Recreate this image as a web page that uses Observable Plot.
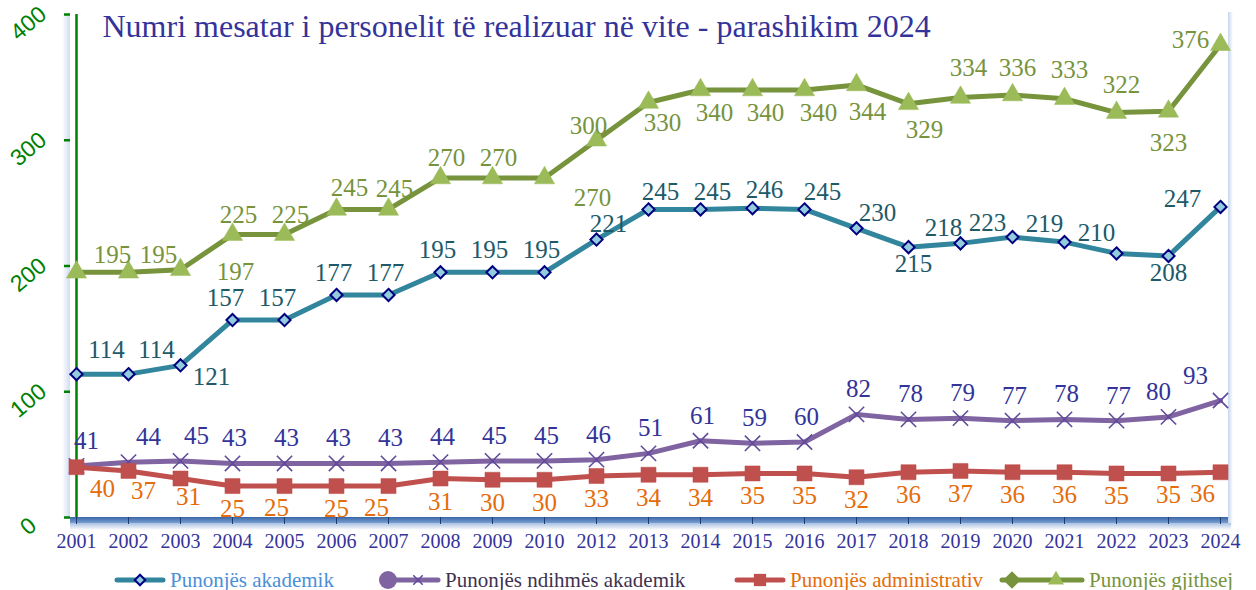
<!DOCTYPE html>
<html><head><meta charset="utf-8">
<script src="https://cdn.jsdelivr.net/npm/d3@7"></script>
<script src="https://cdn.jsdelivr.net/npm/@observablehq/plot@0.6"></script>
<style>
body{margin:0;background:#fff;width:1256px;height:590px;overflow:hidden;position:relative;font-family:"Liberation Serif",serif}
#chart{position:absolute;left:0;top:0}
.leg{position:absolute;top:565px;height:30px;display:flex;align-items:center;font-size:21px;white-space:nowrap}
.leg svg{display:block;margin-right:3px}
</style></head><body>
<div id="chart"></div>
<div id="legend"></div>
<script>
// ---- data ----
const title = "Numri mesatar i personelit të realizuar në vite - parashikim 2024";
const years = ["2001","2002","2003","2004","2005","2006","2007","2008","2009","2010","2012","2013","2014","2015","2016","2017","2018","2019","2020","2021","2022","2023","2024"];
const akademik = [114,114,121,157,157,177,177,195,195,195,221,245,245,246,245,230,215,218,223,219,210,208,247];
const ndihmes = [41,44,45,43,43,43,43,44,45,45,46,51,61,59,60,82,78,79,77,78,77,80,93];
const administrativ = [40,37,31,25,25,25,25,31,30,30,33,34,34,35,35,32,36,37,36,36,35,35,36];
const gjithsej = [195,195,197,225,225,245,245,270,270,270,300,330,340,340,340,344,329,334,336,333,322,323,376];
const seriesNames = ["Punonjës akademik","Punonjës ndihmës akademik","Punonjës administrativ","Punonjës gjithsej"];
const yTicks = [0,100,200,300,400];

// ---- styles ----
const styles = {
  akademik: {line:"#31859c", symbol:"diamond2", r:5.5, fill:"#93cddd", stroke:"#000080", sw:2, label:"#215968", legendText:"#4a8fd8"},
  ndihmes: {line:"#8064a2", symbol:"times", r:7, fill:"none", stroke:"#604a9b", sw:1.6, label:"#333399", legendText:"#3f3151"},
  administrativ: {line:"#c0504d", symbol:"square", r:8.5, fill:"#c0504d", stroke:"#c0504d", sw:0.5, label:"#e46c0a", legendText:"#e46c0a"},
  gjithsej: {line:"#77933c", symbol:"triangle", r:7.5, fill:"#9bbb59", stroke:"#9bbb59", sw:0.5, label:"#77933c", legendText:"#77933c"}
};
// label placement (pixel offsets, style only)
const labelOffsets = {
  akademik: {def:[-3,-22], "2001":[30,-24], "2002":[28,-24], "2003":[31,12], "2004":[-7,-22], "2005":[-7,-22],
    "2012":[12,-16], "2013":[12,-17], "2014":[12,-17], "2015":[12,-18], "2016":[18,-17], "2017":[21,-15],
    "2018":[5,17], "2019":[-17,-15], "2020":[-25,-14], "2021":[-20,-18], "2022":[-20,-20], "2023":[0,17], "2024":[-38,-8]},
  ndihmes: {def:[2,-25], "2001":[10,-25], "2002":[20,-25], "2003":[16,-25], "2023":[-10,-25], "2024":[-25,-25]},
  administrativ: {def:[0,23], "2001":[26,22], "2002":[15,20], "2003":[8,18], "2005":[-8,22], "2007":[-12,22], "2023":[0,22], "2024":[-18,22]},
  gjithsej: {def:[6,-20], "2001":[36,-17], "2002":[30,-17], "2003":[55,2], "2006":[13,-21], "2010":[48,20], "2012":[-8,-14],
    "2013":[14,20], "2014":[14,23], "2015":[13,23], "2016":[14,23], "2017":[11,27], "2018":[16,26],
    "2019":[8,-29], "2020":[5,-27], "2021":[5,-29], "2022":[5,-28], "2023":[0,32], "2024":[-30,-5]}
};

const seriesKeys = ["akademik","ndihmes","administrativ","gjithsej"];
const seriesValues = {akademik, ndihmes, administrativ, gjithsej};
const rows = seriesKeys.flatMap(k => years.map((yr, i) => ({series:k, year:yr, value:seriesValues[k][i]})));

function decor(index, scales, values, dims) {
  const {width, height, marginLeft, marginRight, marginTop, marginBottom} = dims;
  const g = d3.create("svg:g");
  const defs = g.append("defs");
  const band = defs.append("linearGradient").attr("id","band").attr("x1",0).attr("y1",0).attr("x2",0).attr("y2",1);
  band.append("stop").attr("offset","0%").attr("stop-color","#3a66a6");
  band.append("stop").attr("offset","100%").attr("stop-color","#7aa0d2");
  const sh = defs.append("linearGradient").attr("id","shadow").attr("x1",0).attr("y1",0).attr("x2",0).attr("y2",1);
  sh.append("stop").attr("offset","0%").attr("stop-color","#a9c0e2");
  sh.append("stop").attr("offset","100%").attr("stop-color","#ffffff");
  const rb = defs.append("linearGradient").attr("id","rb").attr("x1",0).attr("y1",0).attr("x2",1).attr("y2",0);
  rb.append("stop").attr("offset","0%").attr("stop-color","#c6d6ee");
  rb.append("stop").attr("offset","100%").attr("stop-color","#ffffff");
  const lb = defs.append("linearGradient").attr("id","lb").attr("x1",0).attr("y1",0).attr("x2",1).attr("y2",0);
  lb.append("stop").attr("offset","0%").attr("stop-color","#ffffff");
  lb.append("stop").attr("offset","100%").attr("stop-color","#cfdcf0");
  const xr = width - marginRight, yb = height - marginBottom;
  g.append("rect").attr("x", xr).attr("y", 12).attr("width", 5).attr("height", yb - 4).attr("fill", "url(#rb)");
  g.append("rect").attr("x", marginLeft - 8).attr("y", marginTop).attr("width", 8).attr("height", yb - marginTop).attr("fill", "url(#lb)");
  g.append("rect").attr("x", marginLeft).attr("y", yb + 6).attr("width", xr - marginLeft + 3).attr("height", 7).attr("fill", "url(#shadow)");
  g.append("rect").attr("x", marginLeft).attr("y", yb).attr("width", xr - marginLeft).attr("height", 6).attr("fill", "url(#band)");
  return g.node();
}

const marks = [
  decor,
  Plot.axisX({label: null, tickSize: 7, tickPadding: 9, fontSize: 20, fill: "#333399", stroke: "#1f3b6e", strokeWidth: 1, fontFamily: "Liberation Serif"}),
  Plot.axisY({label: null, ticks: yTicks, tickSize: 6, fill: "none", stroke: "#008000", strokeWidth: 2.5}),
  Plot.ruleX([years[0]], {stroke: "#008000", strokeWidth: 2.5}),
  Plot.text(yTicks, {y: d => d, text: d => String(d), frameAnchor: "left", dx: -42, dy: 9, rotate: -40, fill: "#008000", fontSize: 23, fontFamily: "Liberation Sans", textAnchor: "middle"}),
  Plot.text([title], {frameAnchor: "top-left", dx: 32, dy: 0, lineAnchor: "top", textAnchor: "start", fontSize: 32, fill: "#333399", fontFamily: "Liberation Serif"})
];

for (const k of seriesKeys) {
  const st = styles[k];
  const data = rows.filter(d => d.series === k);
  marks.push(Plot.line(data, {x: "year", y: "value", stroke: st.line, strokeWidth: 5, strokeLinejoin: "round", strokeLinecap: "round"}));
  marks.push(Plot.dot(data, {x: "year", y: "value", symbol: st.symbol, r: st.r, fill: st.fill, stroke: st.stroke, strokeWidth: st.sw}));
}
for (const k of seriesKeys) {
  const st = styles[k];
  const data = rows.filter(d => d.series === k);
  const offs = labelOffsets[k];
  const groups = d3.group(data, d => (offs[d.year] || offs.def).join(","));
  for (const [key, arr] of groups) {
    const [dx, dy] = key.split(",").map(Number);
    marks.push(Plot.text(arr, {x: "year", y: "value", text: d => String(d.value), dx, dy, fill: st.label, fontSize: 25, fontFamily: "Liberation Serif"}));
  }
}

const chart = Plot.plot({
  width: 1256, height: 560,
  marginLeft: 70, marginRight: 28, marginTop: 14, marginBottom: 43,
  x: {type: "point", domain: years, range: [70, 1225], padding: 0},
  y: {domain: [0, 400], range: [517, 14]},
  style: {fontFamily: "Liberation Serif", background: "white", overflow: "visible"},
  marks
});
document.getElementById("chart").appendChild(chart);

// ---- legend ----
const legend = document.getElementById("legend");
const legendItems = [
  {key: "akademik", left: 113, w: 54},
  {key: "ndihmes", left: 378, w: 64},
  {key: "administrativ", left: 733, w: 54},
  {key: "gjithsej", left: 998, w: 88}
];
legendItems.forEach((it, i) => {
  const st = styles[it.key];
  const div = document.createElement("div");
  div.className = "leg";
  div.style.left = it.left + "px";
  const s = d3.create("svg").attr("width", it.w).attr("height", 24);
  s.append("line").attr("x1", 4).attr("x2", it.w - 4).attr("y1", 12).attr("y2", 12).attr("stroke", st.line).attr("stroke-width", 5).attr("stroke-linecap", "round");
  const cx = it.w / 2;
  if (it.key === "akademik") {
    s.append("path").attr("d", d3.symbol(d3.symbolDiamond2, 70)()).attr("transform", `translate(${cx},12)`).attr("fill", st.fill).attr("stroke", st.stroke).attr("stroke-width", 2);
  } else if (it.key === "ndihmes") {
    s.append("circle").attr("cx", 10).attr("cy", 12).attr("r", 9).attr("fill", st.line);
    s.append("path").attr("d", d3.symbol(d3.symbolTimes, 60)()).attr("transform", `translate(${cx + 8},12)`).attr("fill", "none").attr("stroke", st.stroke).attr("stroke-width", 1.5);
  } else if (it.key === "administrativ") {
    s.append("path").attr("d", d3.symbol(d3.symbolSquare, 150)()).attr("transform", `translate(${cx},12)`).attr("fill", st.fill);
  } else {
    s.append("path").attr("d", d3.symbol(d3.symbolDiamond2, 200)()).attr("transform", `translate(14,12)`).attr("fill", st.line);
    s.append("path").attr("d", d3.symbol(d3.symbolTriangle, 110)()).attr("transform", `translate(${cx + 14},12)`).attr("fill", st.fill);
  }
  div.appendChild(s.node());
  const span = document.createElement("span");
  span.textContent = seriesNames[i];
  span.style.color = st.legendText;
  div.appendChild(span);
  legend.appendChild(div);
});
</script>
</body></html>
